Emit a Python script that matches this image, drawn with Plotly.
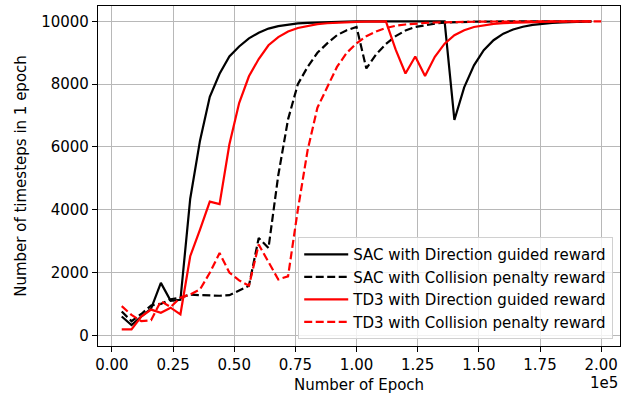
import plotly.graph_objects as go

# ---- data ----
epochs = list(range(4000, 200001, 4000))  # 4000 .. 200000

sac_direction = [600, 330, 600, 850, 1670, 1100, 1130, 4350, 6200, 7600,
                 8330, 8880, 9200, 9460, 9640, 9770, 9850, 9900, 9935, 9955,
                 9970, 9980, 9988, 9994, 10000, 10000, 10000, 10000, 10000, 10000,
                 10000, 10000, 10000, 10000, 6860, 7900, 8600, 9080, 9400, 9610,
                 9740, 9830, 9890, 9930, 9955, 9970, 9980, 9990, 10000]

sac_collision = [760, 450, 680, 950, 1000, 1150, 1200, 1300, 1280, 1260,
                 1260, 1280, 1420, 1580, 3100, 2780, 5100, 6880, 8000, 8550,
                 9000, 9300, 9560, 9720, 9820, 8500, 8950, 9280, 9530, 9710,
                 9820, 9880, 9930, 9960, 9975, 9985, 9990, 9995, 10000, 10000,
                 10000, 10000, 10000, 10000, 10000, 10000, 10000, 10000, 10000]

td3_direction = [190, 190, 600, 820, 720, 880, 670, 2520, 3370, 4260,
                 4180, 6080, 7400, 8250, 8800, 9240, 9500, 9680, 9790, 9860,
                 9910, 9940, 9960, 9975, 9985, 9995, 10000, 10000, 9100, 8340,
                 8880, 8260, 8870, 9290, 9560, 9720, 9820, 9880, 9920, 9945,
                 9960, 9970, 9980, 9985, 9990, 9995, 10000, 10000, 10000]

td3_collision = [930, 650, 450, 480, 1090, 900, 1200, 1300, 1460, 1990,
                 2620, 2000, 1750, 1580, 2890, 2350, 1780, 1880, 4000, 5900,
                 7250, 7900, 8550, 9000, 9300, 9530, 9680, 9790, 9860, 9900,
                 9930, 9950, 9965, 9975, 9982, 9987, 9991, 9994, 9996, 9998,
                 10000, 10000, 10000, 10000, 10000, 10000, 10000, 10000, 10000, 10000]

x_tick_vals = [0, 25000, 50000, 75000, 100000, 125000, 150000, 175000, 200000]
x_tick_text = ["0.00", "0.25", "0.50", "0.75", "1.00", "1.25", "1.50", "1.75", "2.00"]
y_tick_vals = [0, 2000, 4000, 6000, 8000, 10000]
y_tick_text = ["0", "2000", "4000", "6000", "8000", "10000"]

series = [
    ("SAC with Direction guided reward", sac_direction, "#000000", "solid"),
    ("SAC with Collision penalty reward", sac_collision, "#000000", "8px,3.5px"),
    ("TD3 with Direction guided reward", td3_direction, "#ff0000", "solid"),
    ("TD3 with Collision penalty reward", td3_collision, "#ff0000", "8px,3.5px"),
]

FONT = "DejaVu Sans"
FS = 15

fig = go.Figure()
for name, vals, color, dash in series:
    fig.add_trace(go.Scatter(
        x=epochs[:len(vals)], y=vals, mode="lines", name=name,
        line=dict(color=color, width=2.2, dash=dash),
    ))

axis_common = dict(
    showline=True, mirror=True, linecolor="#000000", linewidth=1.2,
    ticks="outside", ticklen=5, tickwidth=1.2, tickcolor="#000000",
    showgrid=True, gridcolor="#b8b8b8", gridwidth=1.1, zeroline=False,
    automargin=False,
    tickfont=dict(family=FONT, size=FS, color="#000000"),
)

fig.update_layout(
    width=633, height=394,
    margin=dict(l=98, r=13, t=6, b=48),
    paper_bgcolor="white", plot_bgcolor="white",
    font=dict(family=FONT, size=FS, color="#000000"),
    xaxis=dict(range=[-5700, 207700], tickvals=x_tick_vals, ticktext=x_tick_text,
               title=dict(text="Number of Epoch", font=dict(family=FONT, size=FS), standoff=8),
               **axis_common),
    yaxis=dict(range=[-340, 10490], tickvals=y_tick_vals, ticktext=y_tick_text,
               title=dict(text="Number of timesteps in 1 epoch", font=dict(family=FONT, size=FS), standoff=10),
               **axis_common),
    legend=dict(x=0.987, xanchor="right", y=0.02, yanchor="bottom",
                bgcolor="rgba(255,255,255,0.8)", bordercolor="#d0d0d0", borderwidth=1,
                itemwidth=44,
                font=dict(family=FONT, size=FS, color="#000000"), tracegroupgap=0),
    annotations=[dict(text="1e5", x=1, xref="paper", xanchor="right",
                      y=-0.108, yref="paper", yanchor="middle", showarrow=False,
                      font=dict(family=FONT, size=FS, color="#000000"))],
)

fig.write_html("out.html", config={"displayModeBar": False},
               post_script="document.body.style.margin='0';")
